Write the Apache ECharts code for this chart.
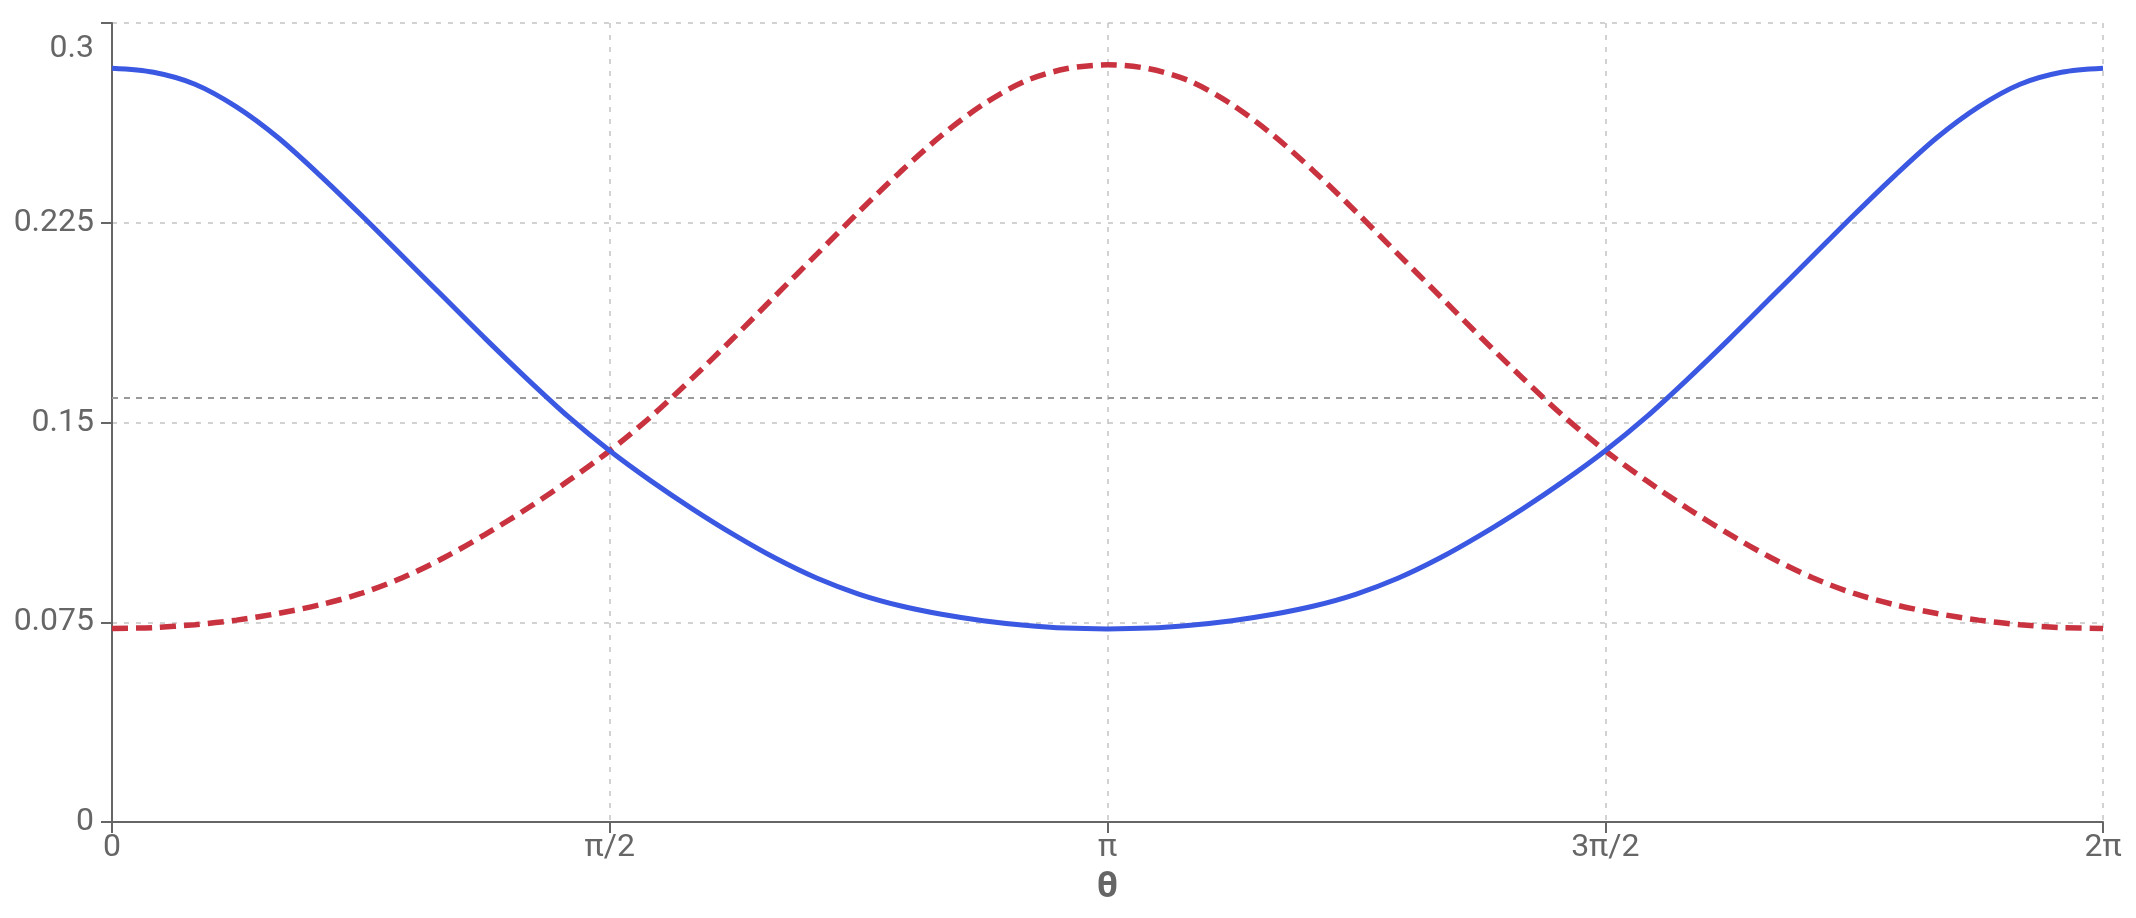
<!DOCTYPE html>
<html>
<head>
<meta charset="utf-8">
<script src="https://cdn.jsdelivr.net/npm/echarts@6/dist/echarts.min.js"></script>
<style>
  html, body { margin: 0; padding: 0; background: #fff; }
  #thetaChart { width: 2136px; height: 918px; }
</style>
</head>
<body>
<div id="thetaChart"></div>
<script>
// angle samples, degrees (axis shows them as multiples of pi)
const thetaDeg = [0, 7.5, 15, 22.5, 30, 37.5, 45, 52.5, 60, 67.5, 75, 82.5, 90,
  97.5, 105, 112.5, 120, 127.5, 135, 142.5, 150, 157.5, 165, 172.5, 180,
  187.5, 195, 202.5, 210, 217.5, 225, 232.5, 240, 247.5, 255, 262.5, 270,
  277.5, 285, 292.5, 300, 307.5, 315, 322.5, 330, 337.5, 345, 352.5, 360]
// solid blue curve, peaks at 0 and 2pi
const blueValues = [0.2830, 0.2815, 0.2770, 0.2685, 0.2570, 0.2430, 0.2280, 0.2125, 0.1970, 0.1815, 0.1665, 0.1522, 0.1394,
  0.1280, 0.1175, 0.1078, 0.0990, 0.0915, 0.0856, 0.0812, 0.0780, 0.0756, 0.0739, 0.0728, 0.0725,
  0.0728, 0.0739, 0.0756, 0.0780, 0.0812, 0.0856, 0.0915, 0.0990, 0.1078, 0.1175, 0.1280, 0.1394,
  0.1522, 0.1665, 0.1815, 0.1970, 0.2125, 0.2280, 0.2430, 0.2570, 0.2685, 0.2770, 0.2815, 0.2830]
// dashed red curve, peaks at pi
const redValues = [0.0727, 0.0730, 0.0741, 0.0758, 0.0783, 0.0815, 0.0858, 0.0917, 0.0992, 0.1080, 0.1176, 0.1281, 0.1394,
  0.1523, 0.1668, 0.1820, 0.1977, 0.2133, 0.2290, 0.2440, 0.2578, 0.2694, 0.2781, 0.2828, 0.2843,
  0.2828, 0.2781, 0.2694, 0.2578, 0.2440, 0.2290, 0.2133, 0.1977, 0.1820, 0.1668, 0.1523, 0.1394,
  0.1281, 0.1176, 0.1080, 0.0992, 0.0917, 0.0858, 0.0815, 0.0783, 0.0758, 0.0741, 0.0730, 0.0727]
// uniform density 1/(2pi) reference level
const uniformLevel = 0.1592
const xTickLabels = ['0', 'π/2', 'π', '3π/2', '2π']

const toPairs = vals => thetaDeg.map((t, i) => [t, vals[i]])

const chart = echarts.init(document.getElementById('thetaChart'))
const labelFont = 'Roboto, Liberation Sans, Arial, sans-serif'
const option = {
  animation: false,
  backgroundColor: '#fff',
  grid: {
    left: 112,
    right: 33,
    top: 23,
    bottom: 96,
    containLabel: false
  },
  xAxis: {
    type: 'value',
    min: 0,
    max: 360,
    interval: 90,
    name: 'θ',
    nameLocation: 'middle',
    nameGap: 47,
    nameTextStyle: {
      color: '#666',
      fontSize: 37,
      fontWeight: 'bold',
      fontFamily: labelFont
    },
    axisLine: { show: true, onZero: false, lineStyle: { color: '#666', width: 2 } },
    axisTick: { show: true, length: 11, lineStyle: { color: '#666', width: 2 } },
    axisLabel: {
      color: '#666',
      fontSize: 32,
      fontFamily: labelFont,
      margin: 10,
      formatter: v => xTickLabels[Math.round(v / 90)]
    },
    splitLine: {
      show: true,
      lineStyle: { color: '#c4c4c4', width: 1.5, type: [5, 7] }
    }
  },
  yAxis: {
    type: 'value',
    min: 0,
    max: 0.3,
    interval: 0.075,
    axisLine: { show: true, lineStyle: { color: '#666', width: 2 } },
    axisTick: { show: true, length: 11, lineStyle: { color: '#666', width: 2 } },
    axisLabel: {
      color: '#666',
      fontSize: 32,
      lineHeight: 52,
      fontFamily: labelFont,
      margin: 18,
      verticalAlignMaxLabel: 'top'
    },
    splitLine: {
      show: true,
      lineStyle: { color: '#c4c4c4', width: 1.5, type: [5, 7] }
    }
  },
  series: [
    {
      name: 'uniform',
      type: 'line',
      data: [[0, uniformLevel], [360, uniformLevel]],
      showSymbol: false,
      silent: true,
      lineStyle: { color: '#999', width: 2, type: [6, 6] },
      z: 1
    },
    {
      name: 'blue',
      type: 'line',
      data: toPairs(blueValues),
      smooth: 0.3,
      showSymbol: false,
      lineStyle: { color: '#3b58e3', width: 5 },
      z: 3
    },
    {
      name: 'red',
      type: 'line',
      data: toPairs(redValues),
      smooth: 0.3,
      showSymbol: false,
      lineStyle: { color: '#c93340', width: 5.5, type: [16, 8] },
      z: 2
    }
  ]
}
chart.setOption(option)
</script>
</body>
</html>
